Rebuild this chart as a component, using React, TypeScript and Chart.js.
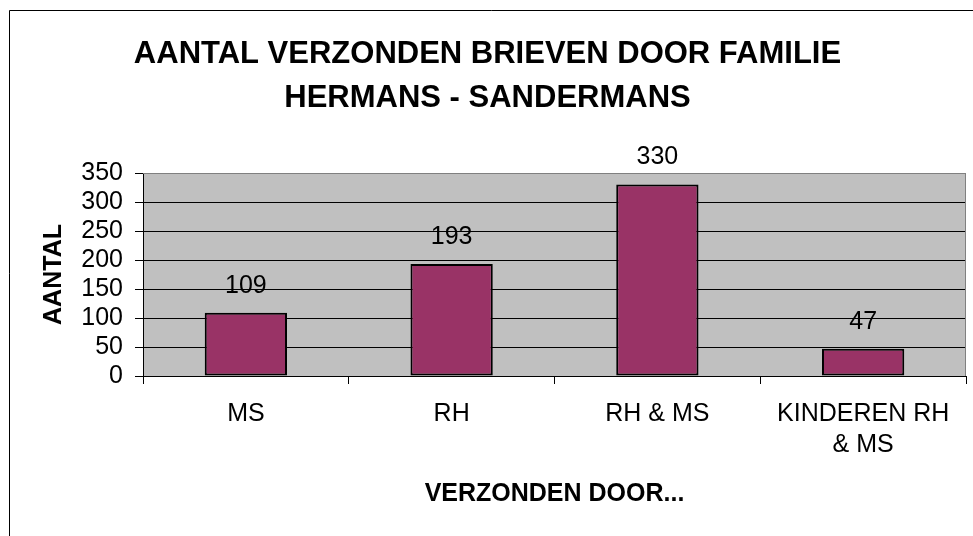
import React, { useEffect, useRef } from "react";
import { Chart, registerables } from "chart.js";

Chart.register(...registerables);

const chartTitle = ["AANTAL VERZONDEN BRIEVEN DOOR FAMILIE", "HERMANS - SANDERMANS"];
const categories: (string | string[])[] = ["MS", "RH", "RH & MS", ["KINDEREN RH", "& MS"]];
const letterCounts = [109, 193, 330, 47];
const yTitle = "AANTAL";
const xTitle = "VERZONDEN DOOR...";
const yMin = 0;
const yMax = 350;
const yStep = 50;

const FONT = "'Liberation Sans', Arial, sans-serif";

const framePlugin = {
  id: "frame",
  beforeDraw(chart: any) {
    const { ctx, chartArea } = chart;
    ctx.save();
    ctx.fillStyle = "#ffffff";
    ctx.fillRect(0, 0, chart.width, chart.height);
    ctx.strokeStyle = "#000000";
    ctx.lineWidth = 1;
    ctx.beginPath();
    ctx.moveTo(9.5, chart.height + 5);
    ctx.lineTo(9.5, 10.5);
    ctx.lineTo(chart.width + 5, 10.5);
    ctx.stroke();
    ctx.fillStyle = "#C0C0C0";
    ctx.fillRect(chartArea.left, chartArea.top, chartArea.right - chartArea.left, chartArea.bottom - chartArea.top);
    ctx.restore();
  },
  beforeDatasetsDraw(chart: any) {
    const { ctx, chartArea } = chart;
    ctx.save();
    ctx.strokeStyle = "#808080";
    ctx.lineWidth = 1;
    ctx.beginPath();
    ctx.moveTo(chartArea.left, chartArea.top + 0.5);
    ctx.lineTo(chartArea.right - 0.5, chartArea.top + 0.5);
    ctx.lineTo(chartArea.right - 0.5, chartArea.bottom);
    ctx.stroke();
    ctx.restore();
  },
};

const valueLabelPlugin = {
  id: "valueLabels",
  afterDatasetsDraw(chart: any) {
    const { ctx } = chart;
    const meta = chart.getDatasetMeta(0);
    const data = chart.data.datasets[0].data;
    ctx.save();
    ctx.fillStyle = "#000000";
    ctx.font = `25px ${FONT}`;
    ctx.textAlign = "center";
    ctx.textBaseline = "middle";
    meta.data.forEach((bar: any, i: number) => {
      ctx.fillText(String(data[i]), bar.x, bar.y - 27);
    });
    ctx.restore();
  },
};

export default function App() {
  const canvasRef = useRef<HTMLCanvasElement | null>(null);

  useEffect(() => {
    if (!canvasRef.current) return;
    const chart = new Chart(canvasRef.current, {
      type: "bar",
      data: {
        labels: categories as any,
        datasets: [
          {
            data: letterCounts,
            backgroundColor: "#993366",
            borderColor: "#000000",
            borderWidth: 2,
            borderSkipped: false,
            categoryPercentage: 1,
            barPercentage: 0.4,
          },
        ],
      },
      options: {
        animation: false,
        responsive: false,
        devicePixelRatio: 1,
        color: "#000000",
        layout: { padding: { left: 9, top: 10, right: 7, bottom: 0 } },
        plugins: {
          legend: { display: false },
          tooltip: { enabled: false },
          title: {
            display: true,
            text: chartTitle,
            color: "#000000",
            font: { family: FONT, size: 31, weight: "bold", lineHeight: 44 / 31 },
            padding: { top: 22, bottom: 53 },
          },
        },
        scales: {
          x: {
            offset: true,
            grid: {
              display: true,
              offset: true,
              drawOnChartArea: false,
              drawTicks: true,
              tickLength: 8,
              color: "#000000",
              tickColor: "#000000",
            },
            border: { display: true, color: "#000000", width: 1 },
            ticks: {
              color: "#000000",
              font: { family: FONT, size: 25, lineHeight: 1.22 },
              padding: 15,
              maxRotation: 0,
              autoSkip: false,
            },
            title: {
              display: true,
              text: xTitle,
              color: "#000000",
              font: { family: FONT, size: 25, weight: "bold", lineHeight: 1.2 },
              padding: { top: 0, bottom: 27 },
            },
            afterFit(scale: any) {
              scale.height = 536 - 376;
            },
          },
          y: {
            min: yMin,
            max: yMax,
            grid: {
              color: (ctx: any) => (ctx.tick && ctx.tick.value === yMax ? "#808080" : "#000000"),
              tickColor: "#000000",
              tickLength: 8,
              lineWidth: 1,
            },
            border: { display: true, color: "#000000", width: 1 },
            ticks: {
              stepSize: yStep,
              color: "#000000",
              font: { family: FONT, size: 25, lineHeight: 1.0 },
              padding: 12,
              autoSkip: false,
            },
            title: {
              display: true,
              text: yTitle,
              color: "#000000",
              font: { family: FONT, size: 25, weight: "bold", lineHeight: 1.2 },
              padding: { top: 30, bottom: 0 },
            },
            afterFit(scale: any) {
              scale.width = 143 - 9;
            },
          },
        },
      },
      plugins: [framePlugin, valueLabelPlugin],
    });
    return () => chart.destroy();
  }, []);

  return (
    <div style={{ position: "absolute", left: 0, top: 0, width: 973, height: 536 }}>
      <canvas ref={canvasRef} width={973} height={536} style={{ width: 973, height: 536, display: "block" }} />
    </div>
  );
}
